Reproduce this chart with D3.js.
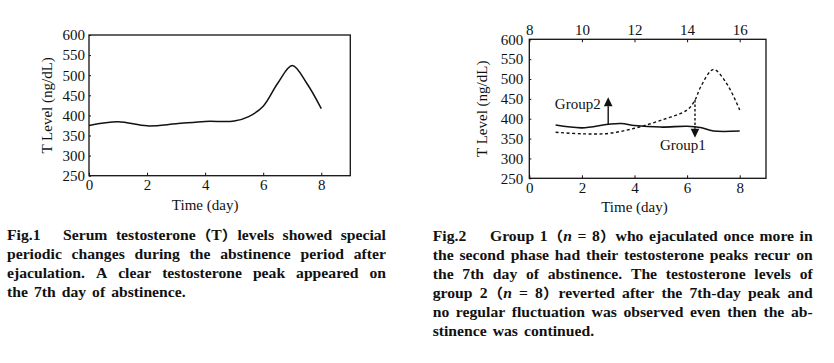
<!DOCTYPE html>
<html><head><meta charset="utf-8">
<script src="https://cdn.jsdelivr.net/npm/d3@7"></script>
<style>body{margin:0;background:#fff} svg{display:block}</style>
</head><body>
<svg id="c" width="834" height="363"></svg>
<script>
// ---------- data ----------
const xTicks = [0, 2, 4, 6, 8];
const xTopTicks = [8, 10, 12, 14, 16];
const yTicks = [250, 300, 350, 400, 450, 500, 550, 600];

const fig1Days   = [0, 1, 2, 3, 4, 5, 5.5, 6, 6.5, 7, 7.5, 8];
const fig1Values = [375, 384, 374, 379, 385, 386, 397, 423, 480, 524, 480, 417];

const fig2SolidDays   = [1, 2, 3, 3.5, 4, 5, 6, 6.5, 7, 8];
const fig2SolidValues = [384, 377, 386, 388, 383, 379, 381, 378, 369, 369];

const fig2DashedDays   = [1, 2, 3, 4, 5, 6, 6.3, 6.5, 7, 7.5, 8];
const fig2DashedValues = [366, 362, 363, 376, 396, 422, 447, 478, 524, 489, 422];

const arrowLabels = ["Group2", "Group1"];
const arrowDays   = [3, 6.3];
const arrowFrom   = [387, 447];
const arrowTo     = [454, 352];

const caption1Label = "Fig.1";
const caption1Lines = [
  "Serum testosterone（T）levels showed special",
  "periodic changes during the abstinence period after",
  "ejaculation. A clear testosterone peak appeared on",
  "the 7th day of abstinence."
];
const caption2Label = "Fig.2";
const caption2Lines = [
  "Group 1（*n* = 8）who ejaculated once more in",
  "the second phase had their testosterone peaks recur on",
  "the 7th day of abstinence. The testosterone levels of",
  "group 2（*n* = 8）reverted after the 7th-day peak and",
  "no regular fluctuation was observed even then the ab-",
  "stinence was continued."
];

// ---------- drawing ----------
const svg = d3.select("#c");
const FONT = "'Liberation Serif','Times New Roman','Noto Sans CJK SC',serif";

function panel(cfg) {
  const x = d3.scaleLinear([0, 9], [cfg.left, cfg.right]);
  const y = d3.scaleLinear([250, 600], [cfg.bottom, cfg.top]);
  const g = svg.append("g").attr("font-family", FONT);

  const styleAxis = sel => {
    sel.select(".domain").remove();
    sel.selectAll("line").attr("stroke", "#111").attr("stroke-width", 1);
    sel.selectAll("text").attr("font-family", FONT).attr("font-size", 15).attr("fill", "#111");
  };
  g.append("g").attr("transform", `translate(0,${cfg.bottom})`)
    .call(d3.axisBottom(x).tickValues(xTicks).tickFormat(d3.format("d")).tickSize(-3).tickPadding(cfg.xPad))
    .call(styleAxis);
  g.append("g").attr("transform", `translate(${cfg.left},0)`)
    .call(d3.axisLeft(y).tickValues(yTicks).tickFormat(d3.format("d")).tickSize(-2).tickPadding(cfg.yPad))
    .call(styleAxis);
  if (cfg.topAxis) {
    const xt = d3.scaleLinear([8, 17], [cfg.left, cfg.right]);
    g.append("g").attr("transform", `translate(0,${cfg.top})`)
      .call(d3.axisTop(xt).tickValues(xTopTicks).tickFormat(d3.format("d")).tickSize(-3).tickPadding(4.3))
      .call(styleAxis);
  }
  g.append("rect")
    .attr("x", cfg.left).attr("y", cfg.top)
    .attr("width", cfg.right - cfg.left).attr("height", cfg.bottom - cfg.top)
    .attr("fill", "none").attr("stroke", "#111").attr("stroke-width", 1.3);

  g.append("text").attr("x", x(4)).attr("y", cfg.bottom + 34)
    .attr("text-anchor", "middle").attr("font-size", 15).attr("fill", "#111").text("Time (day)");
  g.append("text")
    .attr("transform", `translate(${cfg.yTitleX},${(cfg.top + cfg.bottom) / 2}) rotate(-90)`)
    .attr("text-anchor", "middle").attr("font-size", 15).attr("fill", "#111").text("T Level (ng/dL)");
  return { g, x, y };
}

// Figure 1
const p1 = panel({ left: 89, right: 350.3, top: 35, bottom: 175.7, xPad: 3.6, yPad: 4, yTitleX: 52, topAxis: false });
const line1 = d3.line().x((d, i) => p1.x(fig1Days[i])).y(d => p1.y(d)).curve(d3.curveCatmullRom.alpha(0.5));
p1.g.append("path").attr("d", line1(fig1Values))
  .attr("fill", "none").attr("stroke", "#111").attr("stroke-width", 1.5);

// Figure 2
const p2 = panel({ left: 529.3, right: 766, top: 39.3, bottom: 178.3, xPad: 4.3, yPad: 6, yTitleX: 487, topAxis: true });
const lineS = d3.line().x((d, i) => p2.x(fig2SolidDays[i])).y(d => p2.y(d)).curve(d3.curveCatmullRom.alpha(0.5));
const lineD = d3.line().x((d, i) => p2.x(fig2DashedDays[i])).y(d => p2.y(d)).curve(d3.curveCatmullRom.alpha(0.5));
p2.g.append("path").attr("d", lineS(fig2SolidValues))
  .attr("fill", "none").attr("stroke", "#111").attr("stroke-width", 1.6);
p2.g.append("path").attr("d", lineD(fig2DashedValues))
  .attr("fill", "none").attr("stroke", "#111").attr("stroke-width", 1.4).attr("stroke-dasharray", "3,2.5");

// arrows
arrowDays.forEach((day, i) => {
  const ax = p2.x(day), y0 = p2.y(arrowFrom[i]), tip = p2.y(arrowTo[i]);
  const dir = tip < y0 ? 1 : -1; // 1 = pointing up
  const base = tip + dir * 9;
  p2.g.append("line").attr("x1", ax).attr("x2", ax).attr("y1", y0).attr("y2", base)
    .attr("stroke", "#111").attr("stroke-width", 1.4)
    .attr("stroke-dasharray", i === 1 ? "2.5,2" : null);
  p2.g.append("path")
    .attr("d", `M${ax},${tip}L${ax - 4.3},${base}L${ax + 4.3},${base}Z`).attr("fill", "#111");
});
p2.g.append("text").attr("x", p2.x(arrowDays[0]) - 7.5).attr("y", 109)
  .attr("text-anchor", "end").attr("font-size", 15).attr("fill", "#111").text(arrowLabels[0]);
p2.g.append("text").attr("x", 660).attr("y", 150)
  .attr("font-size", 15).attr("fill", "#111").text(arrowLabels[1]);

// ---------- captions (justified) ----------
const SX = 1.12; // horizontal stretch of caption type
function caption(x0, textX, right, y0, lh, label, lines) {
  const g = svg.append("g").attr("transform", `scale(${SX},1)`)
    .attr("font-family", FONT).attr("font-weight", "bold")
    .attr("font-size", 14).attr("fill", "#111");
  g.append("text").attr("x", x0 / SX).attr("y", y0).text(label);
  lines.forEach((line, i) => {
    const start = i === 0 ? textX : x0;
    const y = y0 + i * lh;
    const tokens = line.split(" ");
    const els = tokens.map(t => {
      const te = g.append("text").attr("y", y);
      t.split(/(\*[^*]+\*)/).filter(s => s.length).forEach(part => {
        if (part.startsWith("*")) te.append("tspan").attr("font-style", "italic").text(part.slice(1, -1));
        else te.append("tspan").text(part);
      });
      return te;
    });
    const widths = els.map(e => e.node().getComputedTextLength() * SX);
    const total = d3.sum(widths);
    const last = i === lines.length - 1;
    const gap = last ? 6 : (right - start - total) / (tokens.length - 1);
    let x = start;
    els.forEach((e, j) => { e.attr("x", x / SX); x += widths[j] + gap; });
  });
}
caption(7, 63, 386, 240.5, 18.8, caption1Label, caption1Lines);
caption(432.7, 490, 812.7, 240.7, 19, caption2Label, caption2Lines);
</script>
</body></html>
